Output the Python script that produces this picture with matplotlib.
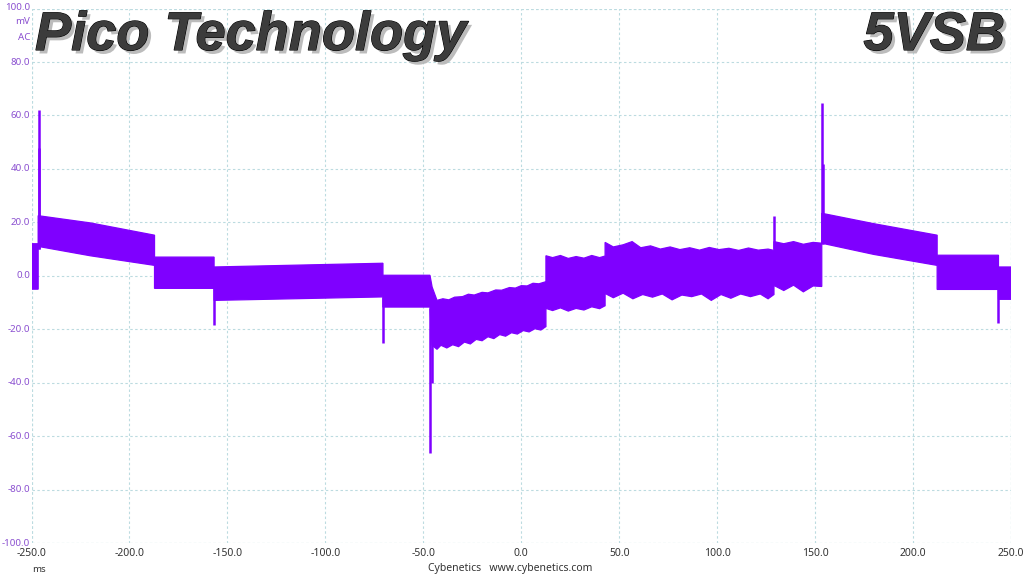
import matplotlib
matplotlib.use("Agg")
import matplotlib.pyplot as plt
import matplotlib.patheffects as pe

# ---------------- data ----------------
# upper / lower envelope of the ripple band (ms, mV); duplicated times mark steps
hi_t = [-250.0, -246.6, -246.6, -220.0, -187.2, -187.2, -156.8, -156.8, -70.6, -70.6, -46.6,
        -45.5, -43, -40, -37, -34, -30, -27, -24, -20, -17, -13, -10, -6, -3, 0, 3, 6, 9, 12.6,
        12.6, 16, 20, 24, 28, 32, 36, 40, 42.8,
        42.8, 47, 52, 56.6, 61, 66, 71, 76, 81, 86, 91, 96, 101, 106, 111, 116, 121, 126, 129.0,
        129.0, 134, 139, 144, 149, 153.4,
        153.4, 180.0, 212.3, 212.3, 243.6, 243.6, 250.0]
hi_v = [12.0, 12.0, 22.5, 19.8, 15.2, 7.0, 7.0, 3.3, 4.7, 0.2, 0.2,
        -4.2, -9.2, -8.6, -9.0, -8.0, -7.8, -6.9, -7.2, -6.2, -6.4, -5.3, -5.4, -4.4, -4.6,
        -3.7, -3.8, -2.8, -3.0, -2.2,
        7.5, 6.8, 7.6, 6.5, 7.2, 6.6, 7.6, 6.8, 7.4,
        12.5, 10.8, 11.6, 12.8, 10.5, 11.2, 10.0, 10.8, 9.8, 10.5, 9.6, 10.6, 9.8, 10.3, 9.5,
        10.4, 9.6, 10.0, 9.5,
        12.8, 12.0, 12.8, 11.8, 12.5, 12.2,
        23.4, 19.5, 15.2, 7.7, 7.7, 3.3, 3.3]
lo_t = [-250.0, -246.6, -246.6, -220.0, -187.2, -187.2, -156.8, -156.8, -70.6, -70.6, -46.6,
        -45.5, -43, -41, -38, -35, -32, -29, -26, -23, -20, -17, -14, -11, -8, -5, -2, 1, 4, 7,
        10, 12.6,
        12.6, 16, 20, 24, 28, 32, 36, 40, 42.8,
        42.8, 47, 52, 57, 62, 67, 72, 77, 82, 87, 92, 97, 102, 107, 112, 117, 122, 126, 129.0,
        129.0, 134, 139, 144, 149, 153.4,
        153.4, 180.0, 212.3, 212.3, 243.6, 243.6, 250.0]
lo_v = [-5.0, -5.0, 11.0, 7.5, 3.9, -4.7, -4.7, -9.2, -7.9, -11.7, -11.7,
        -26.0, -27.5, -26.0, -27.0, -25.8, -26.5, -24.8, -25.5, -23.8, -24.3, -22.8, -23.5,
        -22.0, -22.6, -21.3, -21.8, -20.5, -21.0, -19.8, -20.3, -19.0,
        -12.2, -13.0, -12.0, -13.2, -12.2, -12.8, -11.6, -12.3, -11.2,
        -6.6, -8.2, -6.5, -8.6, -7.0, -8.0, -6.8, -9.0, -7.2, -7.8, -6.8, -9.2, -7.0,
        -8.4, -6.8, -7.8, -6.8, -8.6, -7.0,
        -3.6, -5.5, -3.5, -6.0, -3.8, -4.0,
        12.2, 8.0, 3.9, -5.1, -5.1, -8.8, -8.8]

# transient spikes: time, base, extreme
spike_t    = [-246.4, -246.0, -156.8, -70.6, -46.6, -45.8, 129.0, 153.4, 153.8, 243.6]
spike_base = [10.0, 10.0, -4.0, -8.0, -12.0, -12.0, 10.0, 12.0, 12.0, -5.0]
spike_peak = [62.0, 48.0, -18.5, -25.0, -66.5, -40.0, 22.3, 64.6, 42.0, -17.8]

x_ticks = [-250, -200, -150, -100, -50, 0, 50, 100, 150, 200, 250]
y_ticks = [-100, -80, -60, -40, -20, 0, 20, 40, 60, 80, 100]

# ---------------- drawing ----------------
W, H = 1024, 576
fig = plt.figure(figsize=(W / 100, H / 100), dpi=100)
ax = fig.add_axes([31.5 / W, 1 - 543 / H, (1011 - 31.5) / W, (543 - 8.6) / H])
ax.set_axisbelow(True)

trace = "#7f00ff"
grid_c = "#bcdbe0"
dash = (0, (2.2, 2.2))

ax.set_xlim(-250, 250)
ax.set_ylim(-100, 100)
for s in ax.spines.values():
    s.set_visible(False)
ax.set_xticks(x_ticks)
ax.set_yticks(y_ticks)
ax.tick_params(length=0, labelbottom=False, labelleft=False)
ax.grid(True, color=grid_c, linestyle=dash, linewidth=0.8, zorder=0)
for v in (-250, 250):
    ax.axvline(v, color=grid_c, linestyle=dash, linewidth=0.8, zorder=0)
for v in (-100, 100):
    ax.axhline(v, color=grid_c, linestyle=dash, linewidth=0.8, zorder=0)

# ripple band: polygon from upper edge and reversed lower edge
poly_x = list(hi_t) + list(reversed(lo_t))
poly_y = list(hi_v) + list(reversed(lo_v))
ax.fill(poly_x, poly_y, color=trace, linewidth=0.9, edgecolor=trace, zorder=3)
ax.vlines(spike_t, spike_base, spike_peak, color=trace, linewidth=1.8, zorder=3)

# tick labels as figure text
lab_c = "#8a4fd0"
fam = "Noto Sans"
for v in y_ticks:
    if v == 100:
        continue
    yp = ax.transData.transform((0, v))[1]
    fig.text(30 / W, yp / H, f"{v:.1f}", ha="right", va="center", fontsize=7,
             color=lab_c, family=fam)
fig.text(30 / W, 1 - 8 / H, "100.0", ha="right", va="center", fontsize=7, color=lab_c, family=fam)
fig.text(30 / W, 1 - 22 / H, "mV", ha="right", va="center", fontsize=7, color=lab_c, family=fam)
fig.text(30 / W, 1 - 37 / H, "AC", ha="right", va="center", fontsize=7, color=lab_c, family=fam)

for v in x_ticks:
    xp = ax.transData.transform((v, 0))[0]
    fig.text(xp / W, 1 - 554 / H, f"{v:.1f}", ha="center", va="center", fontsize=7.5,
             color="#333333", family=fam)
fig.text(39 / W, 1 - 569 / H, "ms", ha="center", va="center", fontsize=7, color="#333333",
         family=fam)
fig.text(510 / W, 1 - 569 / H, "Cybenetics   www.cybenetics.com", ha="center", va="center",
         fontsize=7.5, color="#333333", family=fam)

effects = [pe.SimplePatchShadow(offset=(2.5, -2.5), shadow_rgbFace="#b5b5b5", alpha=0.9),
           pe.withStroke(linewidth=0.8, foreground="#000000")]
fig.text(35 / W, 1 - 50 / H, "Pico Technology", ha="left", va="baseline", fontsize=39,
         fontweight="bold", fontstyle="italic", family="Liberation Sans", color="#3c3c3c",
         path_effects=effects)
fig.text(1005 / W, 1 - 50 / H, "5VSB", ha="right", va="baseline", fontsize=39,
         fontweight="bold", fontstyle="italic", family="Liberation Sans", color="#3c3c3c",
         path_effects=effects)

fig.savefig("out.png", dpi=100)
